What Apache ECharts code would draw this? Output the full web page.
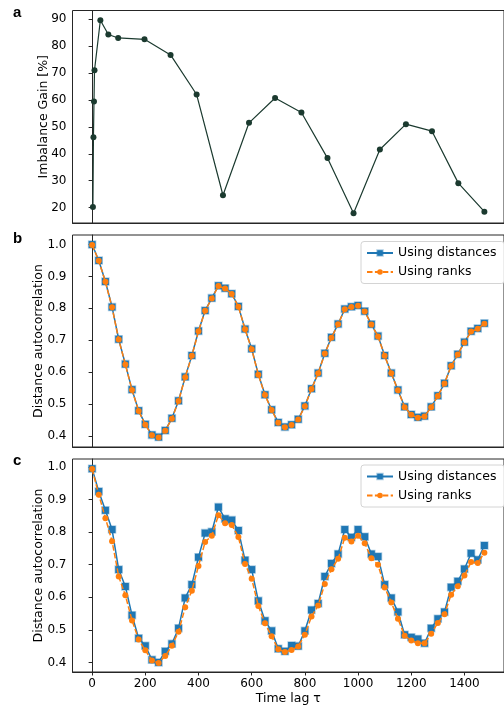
<!DOCTYPE html>
<html>
<head>
<meta charset="utf-8">
<script src="https://cdn.jsdelivr.net/npm/echarts@6/dist/echarts.min.js"></script>
<style>
  html, body { margin: 0; padding: 0; background: #fff; }
  #chart { width: 504px; height: 709px; }
</style>
</head>
<body>
<div id="chart"></div>
<script>
// Panel a: imbalance gain versus time lag
const gainLag = [3, 5, 7, 9, 31, 61, 98, 197, 295, 393, 492, 590, 688, 787, 885, 983, 1082, 1180, 1278, 1377, 1475];
const gainValues = [20.2, 46.1, 59.4, 71.0, 89.6, 84.3, 83.0, 82.5, 76.7, 62.0, 24.6, 51.5, 60.7, 55.3, 38.4, 17.9, 41.6, 51.0, 48.4, 29.1, 18.5];

// Panels b and c: autocorrelation sampled every 25 steps of lag
const lags = [0, 25, 50, 75, 100, 125, 150, 175, 200, 225, 250, 275, 300, 325, 350, 375, 400, 425, 450, 475,
  500, 525, 550, 575, 600, 625, 650, 675, 700, 725, 750, 775, 800, 825, 850, 875, 900, 925, 950, 975,
  1000, 1025, 1050, 1075, 1100, 1125, 1150, 1175, 1200, 1225, 1250, 1275, 1300, 1325, 1350, 1375, 1400, 1425, 1450, 1475];

const bDistances = [1.000, 0.950, 0.884, 0.804, 0.703, 0.625, 0.545, 0.479, 0.436, 0.403, 0.396, 0.417, 0.455, 0.510, 0.585, 0.652, 0.729, 0.793, 0.832, 0.871,
  0.863, 0.846, 0.806, 0.735, 0.673, 0.593, 0.529, 0.482, 0.442, 0.428, 0.435, 0.452, 0.494, 0.548, 0.597, 0.659, 0.709, 0.751, 0.798, 0.805,
  0.809, 0.791, 0.750, 0.713, 0.652, 0.597, 0.544, 0.491, 0.467, 0.458, 0.462, 0.491, 0.526, 0.565, 0.620, 0.656, 0.694, 0.728, 0.737, 0.753];
const bRanks = [0.999, 0.949, 0.883, 0.803, 0.702, 0.624, 0.544, 0.478, 0.435, 0.402, 0.395, 0.416, 0.454, 0.509, 0.584, 0.651, 0.728, 0.792, 0.831, 0.870,
  0.862, 0.845, 0.805, 0.734, 0.672, 0.592, 0.528, 0.481, 0.441, 0.427, 0.434, 0.451, 0.493, 0.547, 0.596, 0.658, 0.708, 0.750, 0.797, 0.804,
  0.808, 0.790, 0.749, 0.712, 0.651, 0.596, 0.543, 0.490, 0.466, 0.457, 0.461, 0.490, 0.525, 0.564, 0.619, 0.655, 0.693, 0.727, 0.736, 0.752];

const cDistances = [0.995, 0.925, 0.867, 0.808, 0.685, 0.633, 0.545, 0.474, 0.451, 0.408, 0.400, 0.434, 0.457, 0.505, 0.598, 0.639, 0.723, 0.797, 0.801, 0.877,
  0.841, 0.837, 0.805, 0.714, 0.685, 0.589, 0.528, 0.497, 0.442, 0.434, 0.452, 0.450, 0.497, 0.561, 0.581, 0.664, 0.704, 0.733, 0.808, 0.784,
  0.808, 0.786, 0.733, 0.725, 0.639, 0.598, 0.555, 0.485, 0.477, 0.472, 0.459, 0.505, 0.534, 0.555, 0.631, 0.649, 0.687, 0.735, 0.715, 0.759];
const cRanks = [0.994, 0.915, 0.843, 0.772, 0.664, 0.606, 0.529, 0.470, 0.437, 0.406, 0.398, 0.420, 0.451, 0.494, 0.569, 0.620, 0.696, 0.770, 0.789, 0.852,
  0.827, 0.822, 0.785, 0.702, 0.657, 0.573, 0.520, 0.480, 0.440, 0.432, 0.438, 0.449, 0.485, 0.541, 0.575, 0.641, 0.686, 0.718, 0.783, 0.771,
  0.789, 0.766, 0.720, 0.700, 0.630, 0.584, 0.534, 0.482, 0.467, 0.459, 0.459, 0.488, 0.521, 0.548, 0.608, 0.634, 0.667, 0.708, 0.705, 0.737];

const gainTicks = [20, 30, 40, 50, 60, 70, 80, 90];
const corrTicks = [0.4, 0.5, 0.6, 0.7, 0.8, 0.9, 1.0];
const lagTicks = [0, 200, 400, 600, 800, 1000, 1200, 1400];

const FONT = 'DejaVu Sans';
const BLUE = '#1f77b4';
const ORANGE = '#ff7f0e';
const DARK = '#1b3a2f';
const SPINE = '#262626';

const zip = (xs, ys) => xs.map((x, i) => [x, ys[i]]);

const grids = [
  { left: 72.5, top: 10.5, width: 438, height: 212.5 },
  { left: 72.5, top: 235, width: 438, height: 212 },
  { left: 72.5, top: 459, width: 438, height: 213 }
].map(g => Object.assign(g, { show: true, borderColor: SPINE, borderWidth: 1, backgroundColor: '#fff', containLabel: false }));

const plain = v => String(v);
const oneDecimal = v => v.toFixed(1);

function xAxisFor(gi, showLabels) {
  return {
    type: 'value', gridIndex: gi, min: -73.75, max: 1548.75,
    axisLine: { show: true, lineStyle: { color: SPINE, width: 1 } },
    axisTick: { show: showLabels, length: 3.5, lineStyle: { color: SPINE }, customValues: lagTicks },
    axisLabel: { show: showLabels, customValues: lagTicks, margin: 6, fontFamily: FONT, fontSize: 12, color: '#000', formatter: plain },
    splitLine: { show: false },
    name: showLabels ? 'Time lag τ' : '', nameLocation: 'middle', nameGap: 20, nameMoveOverlap: false,
    nameTextStyle: { fontFamily: FONT, fontSize: 12.5, color: '#000' }
  };
}

function yAxisFor(gi, min, max, ticks, name, gap, fmt) {
  return {
    type: 'value', gridIndex: gi, min: min, max: max,
    axisLine: { show: true, lineStyle: { color: SPINE, width: 1 } },
    axisTick: { show: true, length: 3.5, lineStyle: { color: SPINE }, customValues: ticks },
    axisLabel: { customValues: ticks, margin: 6, fontFamily: FONT, fontSize: 12, color: '#000', formatter: fmt },
    splitLine: { show: false },
    name: name, nameLocation: 'middle', nameGap: gap, nameMoveOverlap: false,
    nameTextStyle: { fontFamily: FONT, fontSize: 12.5, color: '#000' }
  };
}

function distSeries(gi, values, name) {
  return {
    name: name, type: 'line', xAxisIndex: gi, yAxisIndex: gi,
    data: zip(lags, values),
    symbol: 'rect', symbolSize: 7,
    lineStyle: { color: BLUE, width: 1.5 },
    itemStyle: { color: BLUE, borderColor: 'rgba(31,119,180,0.35)', borderWidth: 1.5 },
    emphasis: { disabled: true }, animation: false, z: 2
  };
}

function rankSeries(gi, values, name) {
  return {
    name: name, type: 'line', xAxisIndex: gi, yAxisIndex: gi,
    data: zip(lags, values),
    symbol: 'circle', symbolSize: 6,
    lineStyle: { color: ORANGE, width: 1.5, type: [5.5, 2.4] },
    itemStyle: { color: ORANGE, borderWidth: 0 },
    emphasis: { disabled: true }, animation: false, z: 3
  };
}

function legendAt(top) {
  return {
    orient: 'vertical', left: 361, top: top,
    data: ['Using distances', 'Using ranks'],
    itemWidth: 26, itemHeight: 7, itemGap: 6,
    padding: [5, 8, 5, 5],
    backgroundColor: 'rgba(255,255,255,0.85)',
    borderColor: '#d4d4d4', borderWidth: 1, borderRadius: 3,
    textStyle: { fontFamily: FONT, fontSize: 12.5, color: '#000' },
    selectedMode: false
  };
}

const panelLetter = (text, top) => ({
  type: 'text', left: 13, top: top,
  style: { text: text, font: 'bold 15px "Liberation Sans"', fill: '#000' }
});

const chart = echarts.init(document.getElementById('chart'), null, { renderer: 'canvas' });
chart.setOption({
  animation: false,
  backgroundColor: '#fff',
  grid: grids,
  xAxis: [xAxisFor(0, false), xAxisFor(1, false), xAxisFor(2, true)],
  yAxis: [
    yAxisFor(0, 14.3, 93.2, gainTicks, 'Imbalance Gain [%]', 22, plain),
    yAxisFor(1, 0.365, 1.030, corrTicks, 'Distance autocorrelation', 27, oneDecimal),
    yAxisFor(2, 0.3705, 1.0246, corrTicks, 'Distance autocorrelation', 27, oneDecimal)
  ],
  legend: [legendAt(241.5), legendAt(465)],
  series: [
    {
      name: 'Imbalance gain', type: 'line', xAxisIndex: 0, yAxisIndex: 0,
      data: zip(gainLag, gainValues),
      symbol: 'circle', symbolSize: 6,
      lineStyle: { color: DARK, width: 1.2 },
      itemStyle: { color: DARK },
      emphasis: { disabled: true }, animation: false
    },
    distSeries(1, bDistances, 'Using distances'),
    rankSeries(1, bRanks, 'Using ranks'),
    distSeries(2, cDistances, 'Using distances'),
    rankSeries(2, cRanks, 'Using ranks')
  ],
  graphic: [panelLetter('a', 5), panelLetter('b', 231), panelLetter('c', 453)]
});
</script>
</body>
</html>
